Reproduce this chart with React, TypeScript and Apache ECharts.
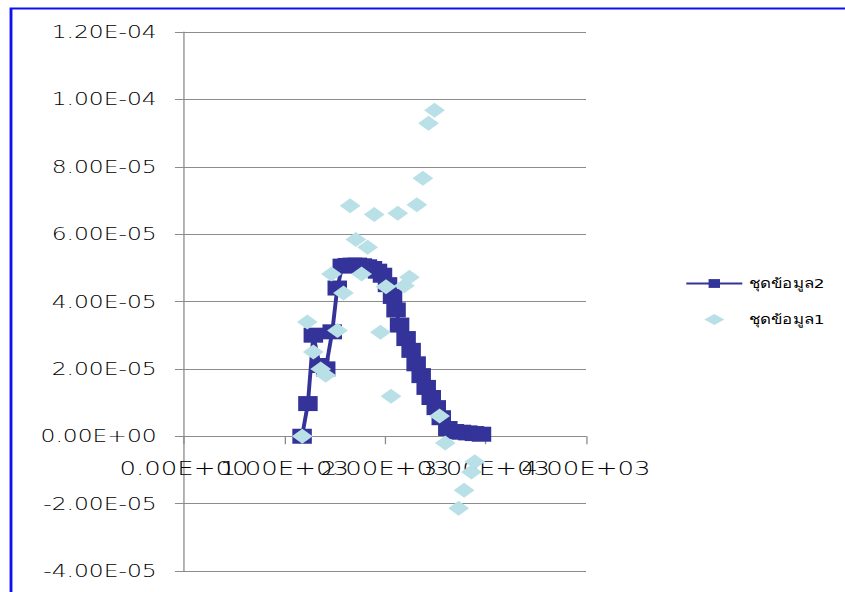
import React, { useEffect, useRef } from 'react';
import * as echarts from 'echarts';

// The chart is laid out in a narrower box and stretched horizontally,
// which gives the wide lettering and wide markers of the original sheet.
const SX = 1.3;
const W = 845 / SX;
const H = 592;

const seriesNames = ['ชุดข้อมูล2', 'ชุดข้อมูล1'];

// ชุดข้อมูล2 : line with square markers
const s2X = [1175, 1233, 1287, 1350, 1410, 1475, 1525, 1575, 1625, 1675, 1725, 1775, 1825, 1875, 1925, 1975, 2025, 2075, 2110, 2145, 2210, 2260, 2310, 2360, 2410, 2460, 2510, 2560, 2625, 2690, 2760, 2825, 2890, 2960];
const s2Y = [0, 9.7e-6, 3.0e-5, 2.1e-5, 2.0e-5, 3.1e-5, 4.4e-5, 5.05e-5, 5.07e-5, 5.08e-5, 5.08e-5, 5.06e-5, 5.03e-5, 4.98e-5, 4.9e-5, 4.78e-5, 4.5e-5, 4.15e-5, 3.75e-5, 3.3e-5, 2.9e-5, 2.55e-5, 2.15e-5, 1.8e-5, 1.45e-5, 1.15e-5, 8.5e-6, 5.5e-6, 2.3e-6, 1.4e-6, 1.2e-6, 1.0e-6, 8e-7, 6e-7];

// ชุดข้อมูล1 : scattered diamonds
const s1X = [1177, 1227, 1287, 1360, 1410, 1467, 1527, 1587, 1653, 1710, 1767, 1827, 1893, 1955, 2010, 2060, 2127, 2193, 2243, 2317, 2377, 2433, 2493, 2543, 2600, 2733, 2787, 2860, 2893];
const s1Y = [0, 3.39e-5, 2.5e-5, 2.0e-5, 1.81e-5, 4.82e-5, 3.14e-5, 4.25e-5, 6.84e-5, 5.84e-5, 4.82e-5, 5.61e-5, 6.58e-5, 3.09e-5, 4.44e-5, 1.19e-5, 6.62e-5, 4.47e-5, 4.72e-5, 6.87e-5, 7.66e-5, 9.29e-5, 9.68e-5, 6.0e-6, -2.0e-6, -2.14e-5, -1.6e-5, -1.06e-5, -7.6e-6];

const xMin = 0;
const xMax = 4000;
const xStep = 1000;
const yMin = -4e-5;
const yMax = 1.2e-4;
const yStep = 2e-5;

// Spreadsheet-style scientific notation, e.g. 1.20E-04
function sci(v: number): string {
  if (Math.abs(v) < 1e-15) return '0.00E+00';
  const [m, e] = v.toExponential(2).split('e');
  const sign = e[0] === '-' ? '-' : '+';
  const digits = e.replace(/^[+-]/, '').padStart(2, '0');
  return `${m}E${sign}${digits}`;
}

export default function App() {
  const ref = useRef<HTMLDivElement>(null);

  useEffect(() => {
    if (!ref.current) return;
    const chart = echarts.init(ref.current, null, { renderer: 'svg' });
    const gridColor = '#8c8c8c';
    const labelFont = 'DejaVu Sans, Verdana, sans-serif';

    const gridTop = 32;
    const gridBottom = 21;
    const plotHeight = H - gridTop - gridBottom;
    // the horizontal axis sits where y = 0 crosses the plot
    const zeroOffset = -((0 - yMin) / (yMax - yMin)) * plotHeight;

    const xLabelBase = {
      margin: 21,
      fontSize: 20,
      fontWeight: 200,
      color: '#000',
      fontFamily: labelFont,
      interval: 0,
      showMinLabel: true,
      showMaxLabel: true,
      hideOverlap: false,
    };
    // The crowded tick labels overlap each other; they are split over two
    // coincident axes so that every one of them is kept.
    const isEvenTick = (v: number) => Math.round(v / xStep) % 2 === 0;

    chart.setOption({
      animation: false,
      backgroundColor: '#ffffff',
      grid: {
        left: 184 / SX,
        right: W - 586 / SX,
        top: gridTop,
        bottom: gridBottom,
        containLabel: false,
        outerBoundsMode: 'none',
      },
      legend: {
        orient: 'vertical',
        left: 685 / SX,
        top: 277,
        padding: 0,
        itemWidth: 56 / SX,
        itemHeight: 11,
        itemGap: 23,
        symbolKeepAspect: true,
        data: [
          { name: seriesNames[0] },
          { name: seriesNames[1], icon: 'path://M7,0L14,5L7,10L0,5Z' },
        ],
        textStyle: { fontSize: 13, color: '#000', fontFamily: labelFont },
      },
      xAxis: [
        {
          type: 'value',
          position: 'bottom',
          offset: zeroOffset,
          min: xMin,
          max: xMax,
          interval: xStep,
          axisLine: { onZero: false, lineStyle: { color: gridColor, width: 1 } },
          axisTick: { show: true, inside: false, length: 8, lineStyle: { color: gridColor } },
          splitLine: { show: false },
          axisLabel: { ...xLabelBase, formatter: (v: number) => (isEvenTick(v) ? sci(v) : '') },
        },
        {
          type: 'value',
          position: 'bottom',
          offset: zeroOffset,
          min: xMin,
          max: xMax,
          interval: xStep,
          axisLine: { show: false, onZero: false },
          axisTick: { show: false },
          splitLine: { show: false },
          axisLabel: { ...xLabelBase, formatter: (v: number) => (isEvenTick(v) ? '' : sci(v)) },
        },
      ],
      yAxis: {
        type: 'value',
        min: yMin,
        max: yMax,
        interval: yStep,
        axisLine: { show: true, onZero: false, lineStyle: { color: gridColor, width: 1 } },
        axisTick: { show: true, inside: false, length: 7, lineStyle: { color: gridColor } },
        splitLine: { show: true, lineStyle: { color: gridColor, width: 1 } },
        axisLabel: {
          margin: 21,
          fontSize: 18,
          fontWeight: 200,
          color: '#000',
          fontFamily: labelFont,
          formatter: (v: number) => sci(v),
        },
      },
      series: [
        {
          name: seriesNames[0],
          type: 'line',
          xAxisIndex: 0,
          data: s2X.map((x, i) => [x, s2Y[i]]),
          symbol: 'rect',
          symbolSize: 15,
          showAllSymbol: true,
          lineStyle: { color: '#333399', width: 3 },
          itemStyle: { color: '#333399' },
          z: 2,
        },
        {
          name: seriesNames[1],
          type: 'scatter',
          xAxisIndex: 0,
          data: s1X.map((x, i) => [x, s1Y[i]]),
          symbol: 'diamond',
          symbolSize: [16, 15],
          itemStyle: { color: '#b8e0e6', opacity: 1 },
          z: 3,
        },
      ],
      graphic: [
        {
          type: 'rect',
          shape: { x: 11 / SX, y: 8.5, width: W, height: H },
          style: { fill: 'none', stroke: '#1010ee', lineWidth: 2.2 },
          silent: true,
          z: 10,
        },
      ],
    });

    return () => chart.dispose();
  }, []);

  return (
    <div
      style={{
        position: 'fixed',
        left: 0,
        top: 0,
        width: 845,
        height: H,
        overflow: 'hidden',
        background: '#fff',
      }}
    >
      <div
        ref={ref}
        style={{
          width: W,
          height: H,
          transform: `scaleX(${SX})`,
          transformOrigin: '0 0',
        }}
      />
    </div>
  );
}
